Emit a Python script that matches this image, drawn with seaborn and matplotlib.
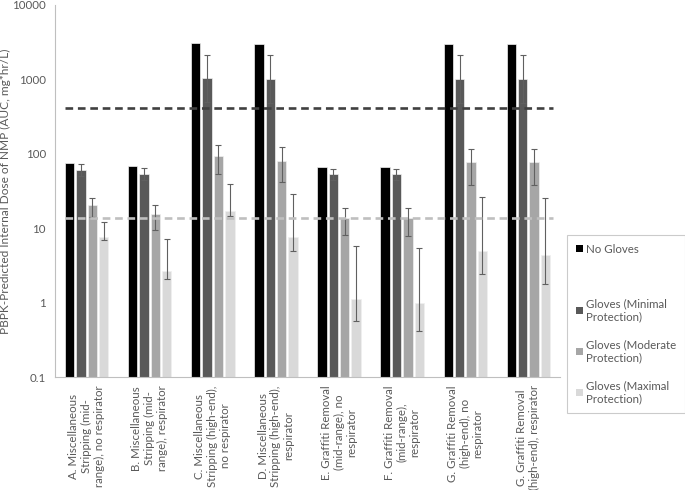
import numpy as np
import pandas as pd
import matplotlib
matplotlib.use("Agg")
import matplotlib.pyplot as plt
from matplotlib.patches import Patch
import seaborn as sns

# scenario labels (x axis)
scenarios = [
    "A. Miscellaneous\nStripping (mid-\nrange), no respirator",
    "B. Miscellaneous\nStripping (mid-\nrange), respirator",
    "C. Miscellaneous\nStripping (high-end),\nno respirator",
    "D. Miscellaneous\nStripping (high-end),\nrespirator",
    "E. Graffiti Removal\n(mid-range), no\nrespirator",
    "F. Graffiti Removal\n(mid-range),\nrespirator",
    "G. Graffiti Removal\n(high-end), no\nrespirator",
    "G. Graffiti Removal\n(high-end), respirator",
]
glove_levels = ["No Gloves", "Gloves (Minimal\nProtection)",
                "Gloves (Moderate\nProtection)", "Gloves (Maximal\nProtection)"]

# AUC values (mg*hr/L)
no_gloves = [75, 69, 3050, 3000, 67, 67, 3000, 3000]
minimal = [60, 54, 1030, 1000, 53, 53, 1000, 1000]
moderate = [20.5, 15.7, 93, 81, 13.6, 13.6, 77, 77]
maximal = [7.5, 2.7, 17, 7.5, 1.13, 1.0, 5.0, 4.3]

# error bar bounds (low / high)
minimal_lo = [50, 45, 500, 480, 44, 44, 480, 480]
minimal_hi = [72, 65, 2120, 2100, 63, 63, 2100, 2100]
moderate_lo = [14.2, 9.6, 53, 41.5, 8.0, 7.8, 38.6, 38.6]
moderate_hi = [25.5, 20.8, 133, 122, 18.9, 18.9, 116, 116]
maximal_lo = [6.9, 2.1, 14.5, 4.9, 0.56, 0.41, 2.45, 1.8]
maximal_hi = [12.3, 7.2, 39.4, 29.2, 5.7, 5.5, 26.3, 25.8]

# reference lines
upper_ref = 415
lower_ref = 13.6

colors = ["#000000", "#595959", "#A6A6A6", "#D9D9D9"]
text_grey = "#595959"
fs = 8.3

df = pd.DataFrame({
    "Scenario": scenarios * 4,
    "Gloves": np.repeat(glove_levels, len(scenarios)),
    "AUC": no_gloves + minimal + moderate + maximal,
})

plt.rcParams['font.family'] = ['Lato', 'DejaVu Sans']
fig = plt.figure(figsize=(6.85, 4.9), dpi=100)
ax = fig.add_axes([0.0803, 0.2306, 0.7372, 0.7592])

sns.barplot(data=df, x="Scenario", y="AUC", hue="Gloves", order=scenarios,
            hue_order=glove_levels, palette=colors, errorbar=None,
            width=0.72, gap=0.18, edgecolor="#f0f0f0", linewidth=0.5, ax=ax)
ax.get_legend().remove()
bar_groups = list(ax.containers)

# error bars on the glove series
err_series = [(minimal, minimal_lo, minimal_hi),
              (moderate, moderate_lo, moderate_hi),
              (maximal, maximal_lo, maximal_hi)]
for container, (vals, lo, hi) in zip(bar_groups[1:], err_series):
    xs = [b.get_x() + b.get_width() / 2 for b in container]
    vals = np.array(vals)
    yerr = [vals - np.array(lo), np.array(hi) - vals]
    ax.errorbar(xs, vals, yerr=yerr, fmt="none", ecolor="#606060",
                elinewidth=0.8, capsize=2.2, capthick=0.8, zorder=3)

# dashed reference lines
x0 = bar_groups[0][0].get_x()
x1 = bar_groups[-1][-1].get_x() + bar_groups[-1][-1].get_width() + 0.04
ax.plot([x0, x1], [upper_ref, upper_ref], color="#404040", lw=1.9,
        ls=(0, (2.9, 1.8)), zorder=4)
ax.plot([x0, x1], [lower_ref, lower_ref], color="#BFBFBF", lw=1.9,
        ls=(0, (2.9, 1.8)), zorder=4)

ax.set_yscale("log")
ax.set_ylim(0.1, 10000)
ax.set_xlim(-0.5, len(scenarios) - 0.5)
ax.set_yticks([0.1, 1, 10, 100, 1000, 10000])
ax.set_yticklabels(["0.1", "1", "10", "100", "1000", "10000"])
ax.yaxis.set_minor_locator(matplotlib.ticker.NullLocator())
ax.tick_params(axis="both", length=0, labelsize=fs, colors=text_grey)
ax.tick_params(axis="y", pad=6.5)
ax.tick_params(axis="x", pad=6)
for lab in ax.get_xticklabels():
    lab.set_rotation(90)
    lab.set_multialignment("center")
    lab.set_ha("center")
    lab.set_va("top")

ax.set_xlabel("")
ax.set_ylabel("PBPK-Predicted Internal Dose of NMP (AUC, mg*hr/L)",
              fontsize=8.6, color=text_grey)
ax.yaxis.set_label_coords(-0.088, 0.5)

for side in ["top", "right"]:
    ax.spines[side].set_visible(False)
for side in ["left", "bottom"]:
    ax.spines[side].set_color("#BFBFBF")
    ax.spines[side].set_linewidth(0.8)

# legend with a gap after the first entry
handles = [Patch(facecolor=colors[0]), Patch(facecolor="none", edgecolor="none")]
handles += [Patch(facecolor=c) for c in colors[1:]]
labels = [glove_levels[0], " "] + glove_levels[1:]
leg = fig.legend(handles, labels, loc="upper left", bbox_to_anchor=(0.828, 0.52),
                 frameon=True, fancybox=False, fontsize=fs, labelspacing=1.5,
                 handlelength=0.6, handleheight=0.6, handletextpad=0.3,
                 borderpad=0.75, borderaxespad=0)
leg.get_frame().set_edgecolor("#BFBFBF")
leg.get_frame().set_linewidth(0.8)
for t in leg.get_texts():
    t.set_color(text_grey)
leg.get_texts()[1].set_fontsize(2)

fig.savefig("out.png", dpi=100)
